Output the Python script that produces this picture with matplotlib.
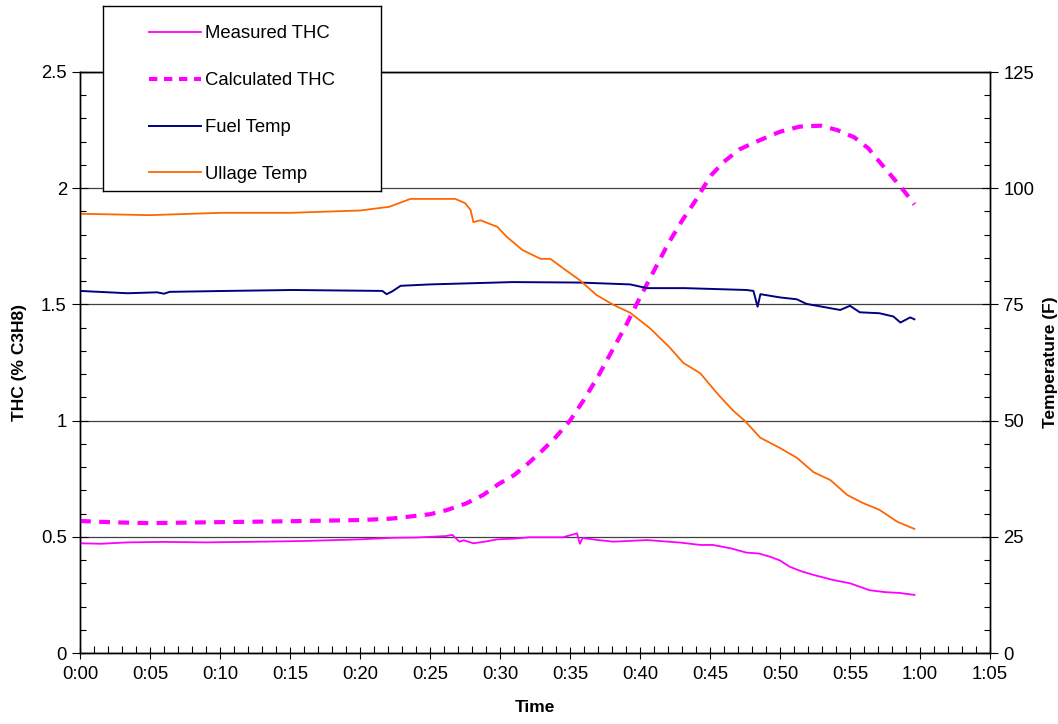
import matplotlib
matplotlib.use('Agg')
import matplotlib.pyplot as plt
from matplotlib.ticker import MultipleLocator, FuncFormatter
from matplotlib.lines import Line2D

plt.rcParams['font.family'] = ['Liberation Sans', 'DejaVu Sans']
plt.rcParams['font.size'] = 13.3

# time in minutes, THC in % C3H8, temperatures in F
meas_t = [0, 1.5, 3.4, 6.0, 9.0, 12.9, 16.0, 20.0, 22.4, 24.0, 26.1, 26.6, 27.1, 27.4, 28.1,
          29.0, 29.8, 31.0, 32.1, 34.5, 35.5, 35.7, 35.9, 37.0, 38.1, 40.5, 42.9, 44.3,
          45.2, 46.5, 47.6, 48.5, 49.3, 50.0, 50.7, 51.5, 52.4, 53.8, 55.0, 56.4, 57.5,
          58.6, 59.6]
meas_thc = [0.472, 0.470, 0.476, 0.478, 0.476, 0.479, 0.482, 0.489, 0.496, 0.497, 0.503,
            0.508, 0.479, 0.485, 0.472, 0.480, 0.489, 0.492, 0.498, 0.498, 0.515, 0.470,
            0.495, 0.486, 0.479, 0.486, 0.475, 0.465, 0.465, 0.450, 0.432, 0.428, 0.414,
            0.398, 0.371, 0.352, 0.336, 0.314, 0.300, 0.270, 0.262, 0.258, 0.250]

calc_t = [0, 2.5, 5, 10, 15, 20, 22.2, 25.0, 26.2, 27.6, 28.8, 29.9, 31.0, 32.0, 33.0,
          34.0, 35.0, 36.0, 37.0, 38.0, 39.0, 40.0, 41.0, 42.0, 43.0, 44.0, 44.6, 45.1,
          46.0, 47.1, 48.3, 50.0, 51.4, 52.9, 54.1, 55.3, 56.3, 57.1, 58.0, 58.9, 59.6]
calc_thc = [0.568, 0.562, 0.559, 0.563, 0.567, 0.572, 0.578, 0.597, 0.615, 0.644, 0.680,
            0.727, 0.765, 0.815, 0.870, 0.930, 1.000, 1.090, 1.190, 1.300, 1.410, 1.530,
            1.645, 1.760, 1.860, 1.950, 2.010, 2.057, 2.114, 2.167, 2.200, 2.243, 2.265,
            2.269, 2.250, 2.219, 2.172, 2.114, 2.050, 1.985, 1.930]

fuel_t = [0, 3.4, 5.5, 6.0, 6.4, 10.5, 15.2, 21.6, 21.9, 22.3, 22.9, 25.0, 30.9, 35.7,
          39.3, 40.5, 43.2, 47.6, 48.1, 48.4, 48.6, 50.0, 51.2, 51.9, 54.3, 55.0, 55.7,
          57.1, 58.1, 58.6, 59.3, 59.6]
fuel_f = [77.9, 77.4, 77.6, 77.3, 77.7, 77.9, 78.1, 77.9, 77.2, 77.8, 79.0, 79.3, 79.8,
          79.7, 79.3, 78.5, 78.5, 78.1, 77.9, 74.5, 77.2, 76.5, 76.1, 75.1, 73.8, 74.7,
          73.3, 73.1, 72.4, 71.1, 72.2, 71.8]

ullage_t = [0, 5, 10, 15, 20, 22.1, 23.6, 26.8, 27.5, 27.9, 28.1, 28.6, 29.8, 30.5, 31.6,
            32.9, 33.6, 34.5, 35.7, 36.9, 38.1, 39.3, 40.7, 42.1, 43.1, 44.3, 45.5, 46.6,
            47.5, 48.6, 50.0, 51.2, 52.4, 53.6, 54.8, 55.9, 57.1, 58.4, 59.6]
ullage_f = [94.5, 94.2, 94.7, 94.7, 95.2, 96.0, 97.7, 97.7, 96.8, 95.3, 92.7, 93.1, 91.7,
            89.5, 86.7, 84.8, 84.8, 82.8, 80.2, 77.0, 74.9, 73.2, 69.9, 65.8, 62.4, 60.2,
            55.9, 52.3, 49.9, 46.3, 44.1, 42.0, 38.9, 37.2, 34.0, 32.3, 30.8, 28.2, 26.7]

W, H = 1058, 724
fig = plt.figure(figsize=(W / 100, H / 100), dpi=100)
ax = fig.add_axes([80 / W, 1 - 653 / H, 910 / W, 581 / H])
ax2 = ax.twinx()

magenta = '#FF00FF'
navy = '#000080'
orange = '#FF6600'

ax.plot(meas_t, meas_thc, color=magenta, lw=1.3, zorder=3)
ax.plot(calc_t, calc_thc, color=magenta, lw=3, dashes=(2.6, 2.0), zorder=3)
ax2.plot(fuel_t, fuel_f, color=navy, lw=1.4)
ax2.plot(ullage_t, ullage_f, color=orange, lw=1.3)

ax.set_xlim(0, 65)
ax.set_ylim(0, 2.5)
ax2.set_ylim(0, 125)

ax.xaxis.set_major_locator(MultipleLocator(5))
ax.xaxis.set_minor_locator(MultipleLocator(1))
ax.xaxis.set_major_formatter(FuncFormatter(lambda m, p: f"{int(round(m)) // 60}:{int(round(m)) % 60:02d}"))
ax.yaxis.set_major_locator(MultipleLocator(0.5))
ax.yaxis.set_minor_locator(MultipleLocator(0.1))
ax.yaxis.set_major_formatter(FuncFormatter(lambda v, p: f"{v:g}"))
ax2.yaxis.set_major_locator(MultipleLocator(25))
ax2.yaxis.set_minor_locator(MultipleLocator(5))

ax.tick_params(axis='x', which='major', direction='inout', length=9, width=0.8, pad=5)
ax.tick_params(axis='x', which='minor', direction='in', length=5, width=0.8)
ax.tick_params(axis='y', which='major', direction='inout', length=11, width=0.8, pad=4)
ax.tick_params(axis='y', which='minor', direction='in', length=4, width=0.8)
ax2.tick_params(axis='y', which='major', direction='inout', length=11, width=0.8, pad=4)
ax2.tick_params(axis='y', which='minor', direction='in', length=4, width=0.8)

for a in (ax, ax2):
    for s in a.spines.values():
        s.set_linewidth(1.0)
        s.set_color('black')

ax.grid(axis='y', which='major', color='#404040', lw=0.9)
ax.set_axisbelow(True)

ax.set_xlabel('Time', fontweight='bold', fontsize=12.5, labelpad=12)
ax.set_ylabel('THC (% C3H8)', fontweight='bold', fontsize=12.5, labelpad=10)
ax2.set_ylabel('Temperature (F)', fontweight='bold', fontsize=12.5, labelpad=6)

# legend box sitting over the top edge of the plot
legax = fig.add_axes([103 / W, 1 - 191 / H, 278 / W, 185 / H])
legax.set_xticks([])
legax.set_yticks([])
legax.set_facecolor('white')
for s in legax.spines.values():
    s.set_linewidth(1.0)
handles = [
    Line2D([], [], color=magenta, lw=1.3),
    Line2D([], [], color=magenta, lw=3, dashes=(2.0, 1.6)),
    Line2D([], [], color=navy, lw=1.4),
    Line2D([], [], color=orange, lw=1.3),
]
labels = ['Measured THC', 'Calculated THC', 'Fuel Temp', 'Ullage Temp']
legax.legend(handles, labels, loc='center', bbox_to_anchor=(0.5, 0.47), frameon=False,
             handlelength=2.8, handletextpad=0.25, labelspacing=1.62, borderpad=0)

fig.savefig('out.png', dpi=100)
